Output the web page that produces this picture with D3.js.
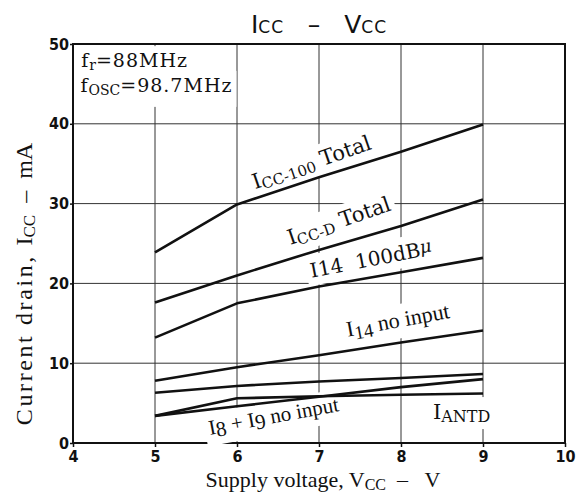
<!DOCTYPE html>
<html>
<head>
<meta charset="utf-8">
<script src="https://cdn.jsdelivr.net/npm/d3@7"></script>
<style>
  body { margin: 0; background: #fff; }
  svg { display: block; }
  .tick text { font-family: "DejaVu Sans Condensed", "DejaVu Sans", sans-serif; font-stretch: condensed; font-weight: bold; font-size: 16px; fill: #111; }
  .tick line { stroke: #111; stroke-width: 1.5; }
</style>
</head>
<body>
<svg width="583" height="495"></svg>
<script>
// supply voltage, V
var voltage = [5, 6, 7, 8, 9];

// current drain, mA
var iccTotal100 = [23.9, 29.9, 33.3, 36.5, 39.9];
var iccDTotal = [17.6, 21.0, 24.2, 27.2, 30.5];
var i14Input100 = [13.2, 17.5, 19.6, 21.4, 23.2];
var i14NoInput = [7.8, 9.5, 11.0, 12.6, 14.1];
var i8i9Input = [6.3, 7.15, 7.7, 8.15, 8.65];
var iAntd = [3.4, 5.6, 5.85, 6.05, 6.2];
var i8i9NoInput = [3.4, 4.6, 5.8, 7.0, 8.0];

var xTicks = [4, 5, 6, 7, 8, 9, 10];
var yTicks = [0, 10, 20, 30, 40, 50];

var series = [iccTotal100, iccDTotal, i14Input100, i14NoInput, i8i9Input, iAntd, i8i9NoInput];

var svg = d3.select("svg");
var plotLeft = 73, plotRight = 565, plotTop = 44, plotBottom = 443;

var x = d3.scaleLinear().domain([4, 10]).range([plotLeft, plotRight]);
var y = d3.scaleLinear().domain([0, 50]).range([plotBottom, plotTop]);

// grid
var grid = svg.append("g").attr("stroke", "#333").attr("stroke-width", 1);
grid.selectAll("line.v").data(xTicks.slice(1, -1)).enter().append("line").attr("class", "v")
	.attr("x1", function(d) { return x(d); }).attr("x2", function(d) { return x(d); })
	.attr("y1", plotTop).attr("y2", plotBottom);
grid.selectAll("line.h").data(yTicks.slice(1, -1)).enter().append("line").attr("class", "h")
	.attr("x1", plotLeft).attr("x2", plotRight)
	.attr("y1", function(d) { return y(d); }).attr("y2", function(d) { return y(d); });

// axes
svg.append("g").attr("transform", "translate(0," + plotBottom + ")")
	.call(d3.axisBottom(x).tickValues(xTicks).tickFormat(d3.format("d")).tickSize(4).tickPadding(4))
	.call(function(g) { g.select(".domain").remove(); });
svg.append("g").attr("transform", "translate(" + plotLeft + ",0)")
	.call(d3.axisLeft(y).tickValues(yTicks).tickFormat(d3.format("d")).tickSize(3).tickPadding(1))
	.call(function(g) { g.select(".domain").remove(); });

svg.append("rect").attr("x", plotLeft).attr("y", plotTop)
	.attr("width", plotRight - plotLeft).attr("height", plotBottom - plotTop)
	.attr("fill", "none").attr("stroke", "#111").attr("stroke-width", 2);

// text with sub/superscript parts: [text, size, offset, style, letter-spacing]
function richText(g, parts, family) {
	var t = g.append("text").attr("font-family", family).attr("fill", "#111");
	var prev = 0;
	parts.forEach(function(p) {
		var ts = t.append("tspan").text(p[0]).attr("font-size", p[1]).attr("dy", p[2] - prev);
		if (p[3]) ts.attr("font-style", p[3]);
		if (p[4]) ts.attr("letter-spacing", p[4]);
		prev = p[2];
	});
	return t;
}

var labelLayer = svg.append("g");
var lineLayer = svg.append("g");
var textLayer = svg.append("g");

var serifA = "DejaVu Serif, serif";
var serifB = "Liberation Serif, Times New Roman, serif";

var labels = [
	{ vx: 6.22, vy: 31.8, a: -19, f: serifA, parts: [["I", 21, 0], ["CC-100", 15, 3], ["\u00a0Total", 21, 0]] },
	{ vx: 6.65, vy: 24.8, a: -19, f: serifA, parts: [["I", 21, 0], ["CC-D", 15, 3], ["\u00a0Total", 21, 0]] },
	{ vx: 6.91, vy: 20.7, a: -11, f: serifA, parts: [["I14\u00a0\u00a0100dB", 20, 0], ["\u03bc", 18, -3, "italic"]] },
	{ vx: 7.35, vy: 13.3, a: -10.5, f: serifB, parts: [["I", 22, 0], ["14", 19, 4], ["\u00a0no input", 22, 0]] },
	{ vx: 5.67, vy: 1.0, a: -10.5, f: serifB, parts: [["I", 21, 0], ["8", 21, 3], ["\u00a0+\u00a0I", 21, 0], ["9", 21, 3], ["\u00a0no input", 21, 0]] },
	{ vx: 8.39, vy: 3.0, a: 0, f: serifA, parts: [["I", 21, 0], ["ANTD", 16, 3]] },
	{ vx: 4.1, vy: 47.1, a: 0, f: serifA, parts: [["f", 19, 0, null, 1], ["r", 14, 3], ["=88MHz", 19, 0, null, 1]] },
	{ vx: 4.09, vy: 44.0, a: 0, f: serifA, padB: 9, parts: [["f", 19, 0, null, 1], ["OSC", 14, 3], ["=98.7MHz", 19, 0, null, 1]] }
];

labels.forEach(function(l) {
	var tr = "translate(" + x(l.vx) + "," + y(l.vy) + ") rotate(" + l.a + ")";
	var bg = labelLayer.append("g").attr("transform", tr);
	var g = textLayer.append("g").attr("transform", tr);
	var t = richText(g, l.parts, l.f);
	var b = t.node().getBBox();
	bg.append("rect").attr("x", b.x - 4).attr("y", b.y - 3)
		.attr("width", b.width + 8).attr("height", b.height + 3 + (l.padB || 3)).attr("fill", "#fff");
});

// data lines
var line = d3.line().x(function(d, i) { return x(voltage[i]); }).y(function(d) { return y(d); });
lineLayer.selectAll("path").data(series).enter().append("path")
	.attr("d", line).attr("fill", "none").attr("stroke", "#111")
	.attr("stroke-width", 2.6).attr("stroke-linejoin", "round");

// title
var title = svg.append("text").attr("x", (plotLeft + plotRight) / 2).attr("y", 33)
	.attr("text-anchor", "middle").attr("font-family", "DejaVu Sans, sans-serif").attr("fill", "#111");
title.append("tspan").text("I").attr("font-size", 25);
title.append("tspan").text("CC").attr("font-size", 17).attr("letter-spacing", 1);
title.append("tspan").text("\u00a0\u00a0\u00a0\u2013\u00a0\u00a0\u00a0").attr("font-size", 25);
title.append("tspan").text("V").attr("font-size", 25);
title.append("tspan").text("CC").attr("font-size", 17).attr("letter-spacing", 1);

// axis titles
var xt = richText(svg.append("g").attr("transform", "translate(323,487)"),
	[["Supply voltage, V", 22, 0], ["CC", 16, 3], ["\u00a0\u00a0\u2013\u00a0\u00a0\u00a0V", 22, 0]], serifB);
xt.attr("text-anchor", "middle");
var yt = richText(svg.append("g").attr("transform", "translate(32,284) rotate(-90)"),
	[["Current drain,\u00a0", 24, 0, null, 2.6], ["I", 24, 0], ["CC", 17, 3], ["\u00a0\u00a0\u2013\u00a0\u00a0mA", 24, 0]], serifB);
yt.attr("text-anchor", "middle");
</script>
</body>
</html>
